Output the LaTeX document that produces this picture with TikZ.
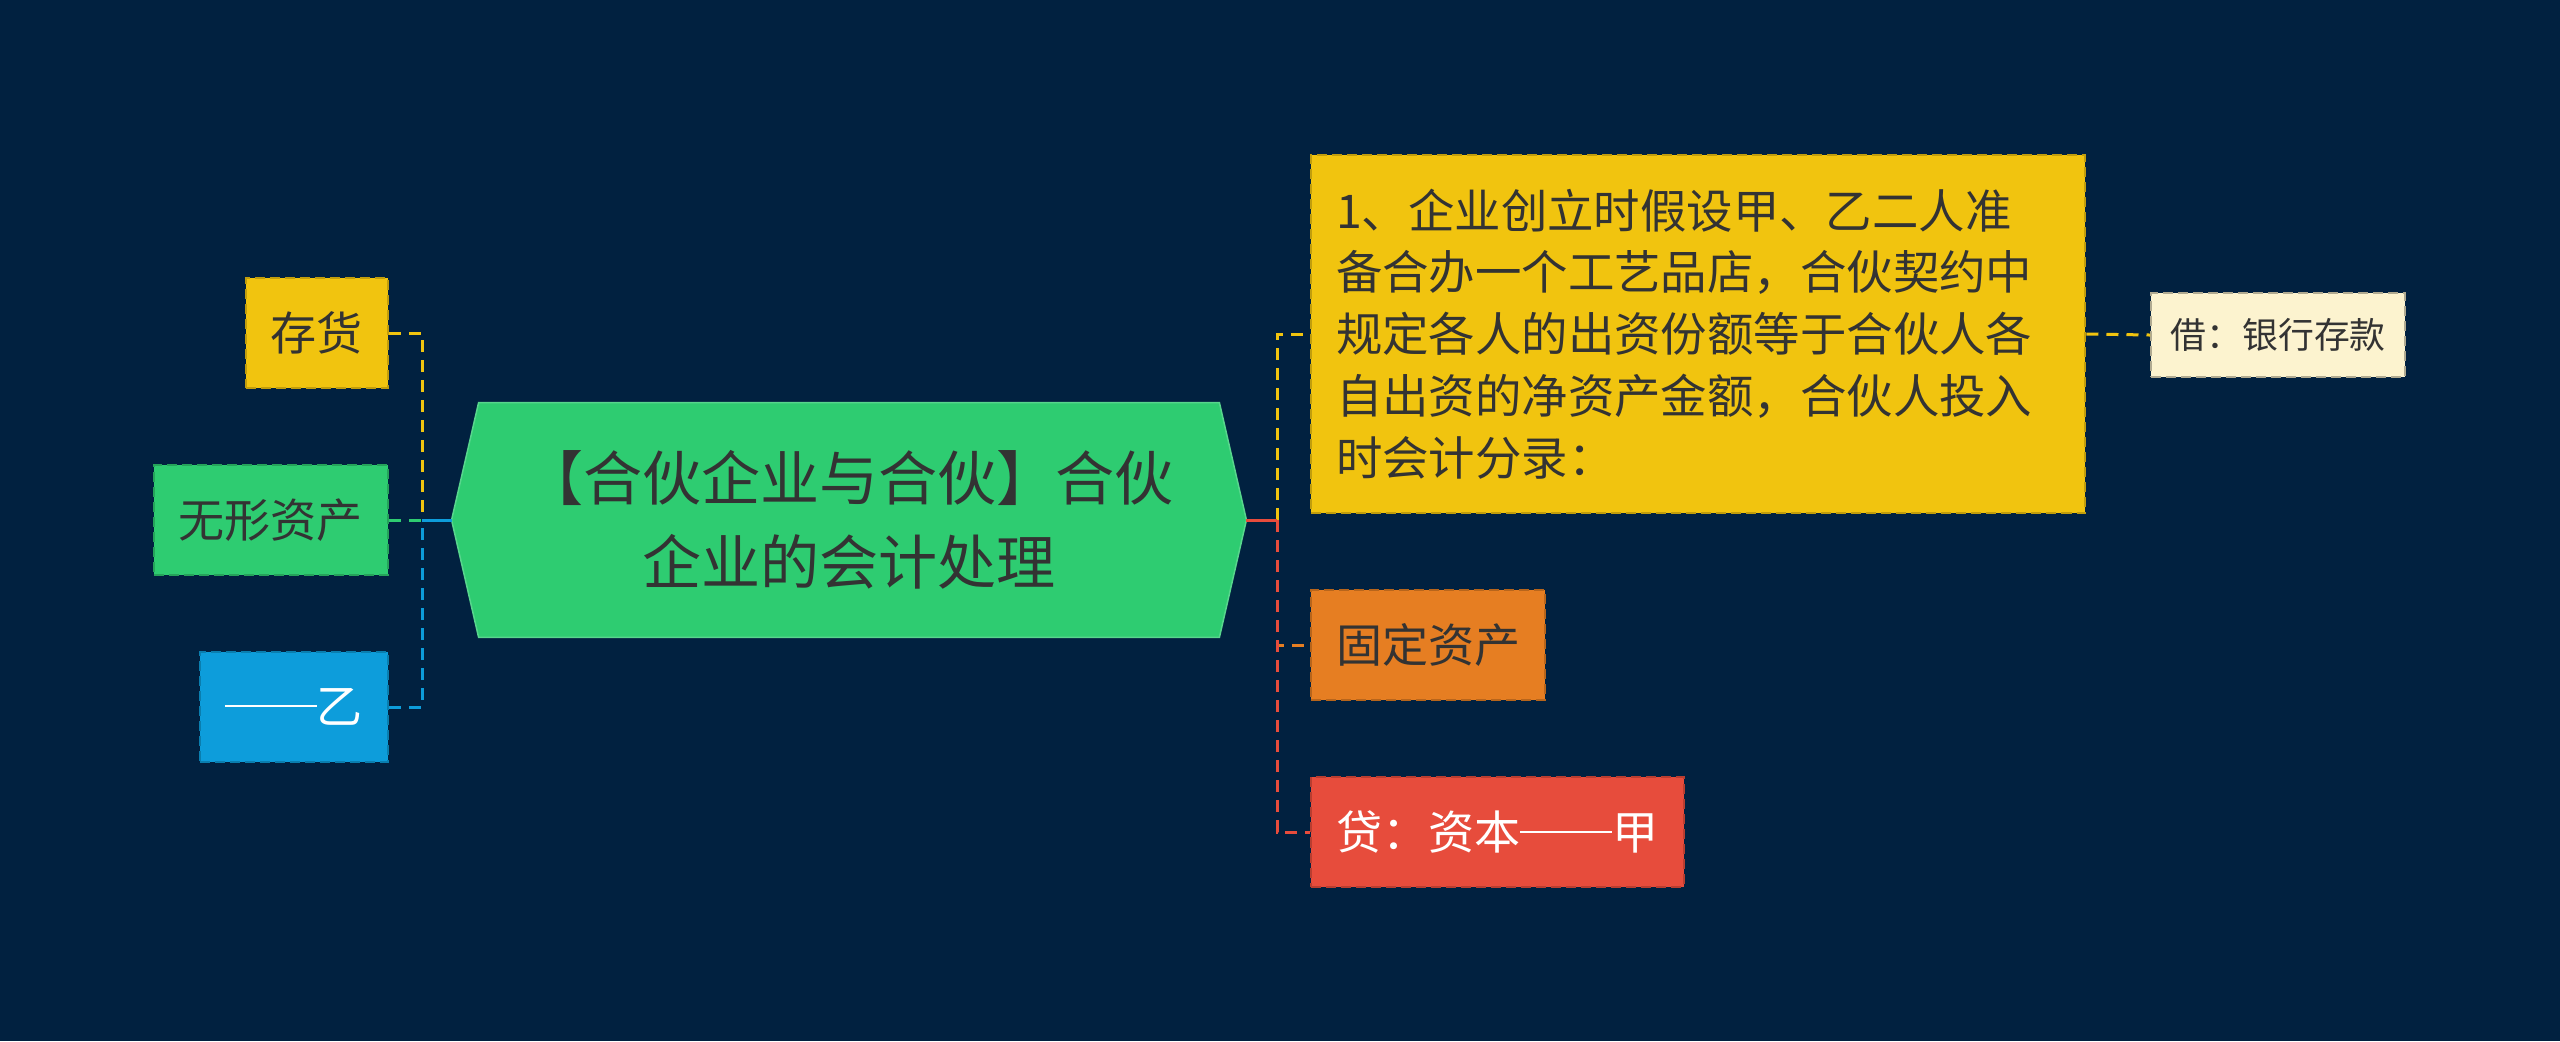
\documentclass[tikz,border=0pt]{standalone}
\usepackage{fontspec}
\setmainfont{Noto Sans CJK SC}
\usetikzlibrary{backgrounds}
\definecolor{mybg}{RGB}{1,33,64}
\definecolor{myyellow}{RGB}{241,196,15}
\definecolor{mygreen}{RGB}{46,204,113}
\definecolor{myblue}{RGB}{13,157,219}
\definecolor{myorange}{RGB}{230,126,34}
\definecolor{myred}{RGB}{231,76,60}
\definecolor{mycream}{RGB}{252,243,207}
\definecolor{mytext}{RGB}{51,51,51}
\newcommand{\LEFTX}{389}% right edge of the left boxes
\newcommand{\RIGHTX}{1310}% left edge of the right boxes
\newcommand{\mydash}{\rule[0.36em]{2em}{0.05em}}% full width double dash

\begin{document}
\begin{tikzpicture}[x=0.01cm,y=-0.01cm,
    leaf/.style={draw,dash pattern=on 0.1cm off 0.05cm,line width=0.02cm,inner xsep=0.25cm,inner ysep=0pt,
      minimum height=1.1cm,text=mytext,font=\fontsize{13.1}{16}\selectfont},
    conn/.style={line width=0.03cm,dash pattern=on 0.12cm off 0.08cm}]

    \useasboundingbox (0,0) rectangle (2560,1041);

    \node[minimum width=7.39cm,minimum height=2.33cm,inner sep=0pt,align=center,text=mytext,
      font=\fontsize{16.8}{23.9}\selectfont](root) at (849,520) {【合伙企业与合伙】合伙\\企业的会计处理};

    % left side
    \node[leaf,fill=myyellow,draw=myyellow!80!black,anchor=east](cunhuo) at (\LEFTX,333) {存货};
    \node[leaf,fill=mygreen,draw=mygreen!80!black,anchor=east](wuxing) at (\LEFTX,520) {无形资产};
    \node[leaf,fill=myblue,draw=myblue!80!black,anchor=east,text=white](yi) at (\LEFTX,707) {\mydash 乙};

    % right side
    \node[leaf,fill=myyellow,draw=myyellow!80!black,anchor=west,text width=7.24cm,align=left,minimum height=3.58cm,
      font=\fontsize{13.2}{17.6}\selectfont](heji) at (\RIGHTX,334) {1、企业创立时假设甲、乙二人准\\备合办一个工艺品店，合伙契约中\\规定各人的出资份额等于合伙人各\\自出资的净资产金额，合伙人投入\\时会计分录：};
    \node[leaf,fill=myorange,draw=myorange!80!black,anchor=west](guding) at (\RIGHTX,645) {固定资产};
    \node[leaf,fill=myred,draw=myred!80!black,anchor=west,text=white](daifang) at (\RIGHTX,832) {贷：资本\mydash 甲};
    \node[leaf,fill=mycream,draw=mycream!70!black,anchor=west,inner xsep=0.195cm,minimum height=0.84cm,
      font=\fontsize{10.2}{12}\selectfont](jie) at (2150,335) {借：银行存款};

    \coordinate (lj) at (422,520);% left junction
    \coordinate (rj) at (1277,520);% right junction

    \foreach \n/\c in {cunhuo/myyellow,wuxing/mygreen,yi/myblue}{% left children
      \draw[conn,\c] (\n.east) -| (lj);
    }
    \draw[myblue,line width=0.03cm] (lj) -- ([xshift=-0.27cm]root.west);

    \foreach \n/\c in {heji/myyellow,guding/myorange,daifang/myred}{% right children
      \draw[conn,\c] (rj) |- (\n.west);
    }
    \draw[myred,line width=0.03cm] ([xshift=0.27cm]root.east) -- (rj);
    \draw[conn,myyellow] (heji.east) -- (jie.west);

    \begin{scope}[on background layer]
      \fill[mybg] (0,0) rectangle (2560,1041);
      \filldraw[fill=mygreen,draw=mygreen!80!white,line width=0.015cm] ([xshift=-0.27cm]root.west) -- (root.north west) -- (root.north east)
        -- ([xshift=0.27cm]root.east) -- (root.south east) -- (root.south west) -- cycle;% hexagon
    \end{scope}

\end{tikzpicture}
\end{document}
